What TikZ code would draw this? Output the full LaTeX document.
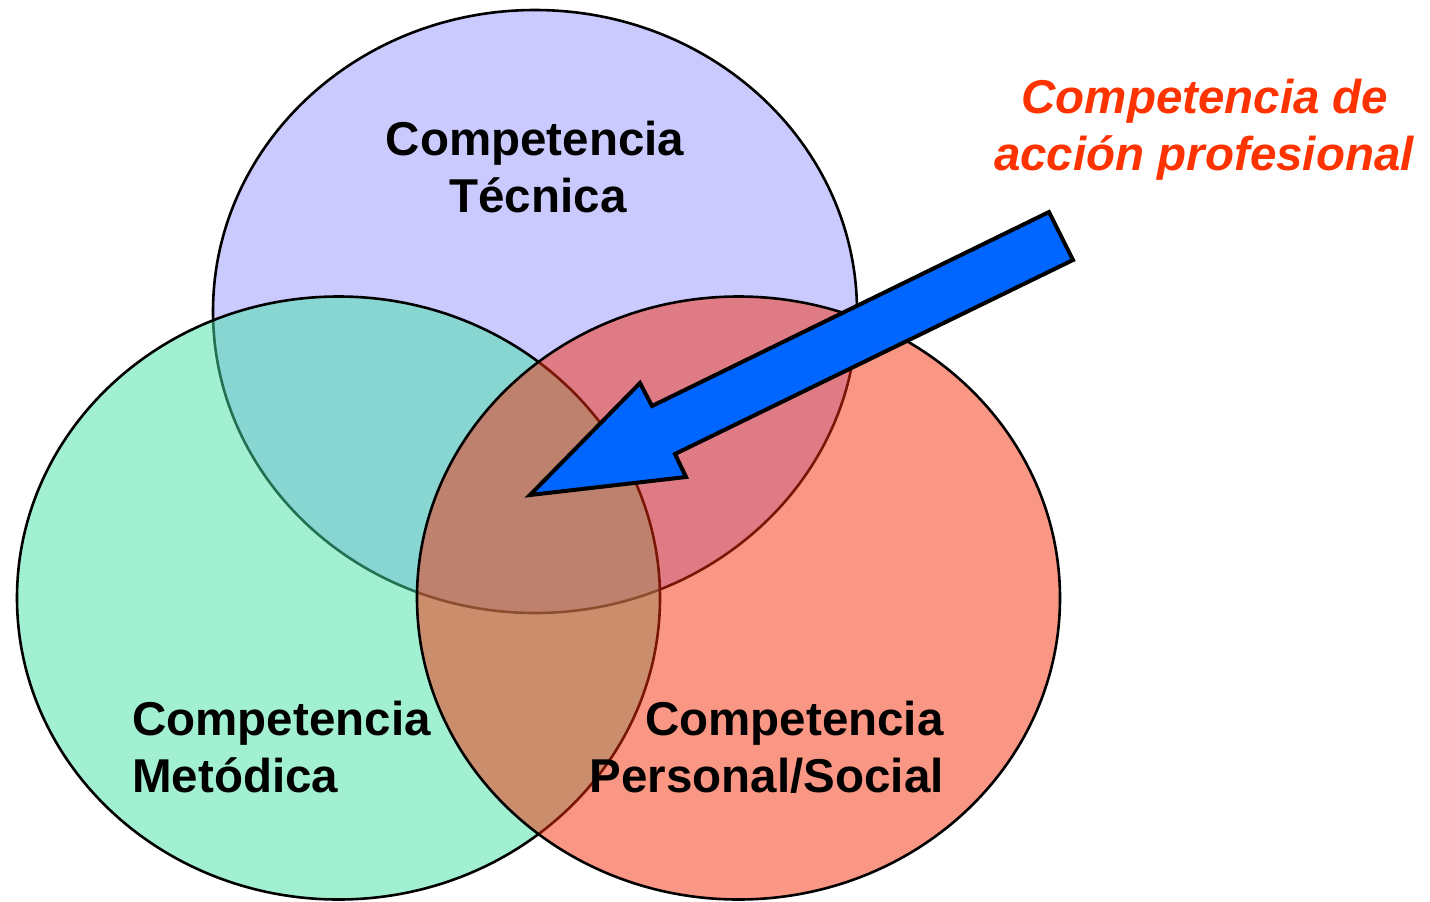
\documentclass[tikz,border=0pt]{standalone}
\usepackage{fontspec}
\setmainfont{Liberation Sans}
\definecolor{blueC}{RGB}{150,150,255}
\definecolor{greenC}{RGB}{70,225,165}
\definecolor{redC}{RGB}{245,45,10}
\definecolor{arrowC}{RGB}{0,102,255}
\definecolor{labelRed}{RGB}{255,51,0}
\tikzset{
  setcircle/.style={draw=black, line width=1.3pt, fill opacity=0.5},
  lbl/.style={inner sep=0pt, font=\fontsize{23.75pt}{28.5pt}\selectfont\bfseries, text=black},
  redlbl/.style={inner sep=0pt, font=\fontsize{23.75pt}{28.5pt}\selectfont\bfseries\itshape, text=labelRed},
  blockarrow/.style={draw=black, line width=2pt, fill=arrowC, line join=miter}
}
\begin{document}
\begin{tikzpicture}[x=0.5pt,y=-0.5pt]
\useasboundingbox (0,0) rectangle (1430,901);
% circles
\path[setcircle, fill=blueC] (535,311.5) ellipse [x radius=161pt, y radius=150.75pt];
\path[setcircle, fill=greenC] (338.5,598) ellipse [x radius=160.75pt, y radius=150.75pt];
\path[setcircle, fill=redC] (738.5,598) ellipse [x radius=160.75pt, y radius=150.75pt];
% labels
\node[lbl, anchor=base] (tec1) at (535,155) {Competencia};
\node[lbl, anchor=base] (tec2) at (538,212) {Técnica};
\node[lbl, anchor=base west] (met1) at (132,735) {Competencia};
\node[lbl, anchor=base west] (met2) at (132,792) {Metódica};
\node[lbl, anchor=base east] (per1) at (944,735) {Competencia};
\node[lbl, anchor=base east] (per2) at (944,792) {Personal/Social};
\node[redlbl, anchor=base] (acc1) at (1205,113) {Competencia de};
\node[redlbl, anchor=base] (acc2) at (1204,170) {acción profesional};
% block arrow
\coordinate (tip) at (530,495);
\coordinate (ub) at (640,383);
\coordinate (un) at (652,406);
\coordinate (et) at (1049,212);
\coordinate (er) at (1073,260);
\coordinate (ln) at (675,454);
\coordinate (lb) at (686,477);
\draw[blockarrow] (tip) -- (ub) -- (un) -- (et) -- (er) -- (ln) -- (lb) -- cycle;
\end{tikzpicture}
\end{document}
